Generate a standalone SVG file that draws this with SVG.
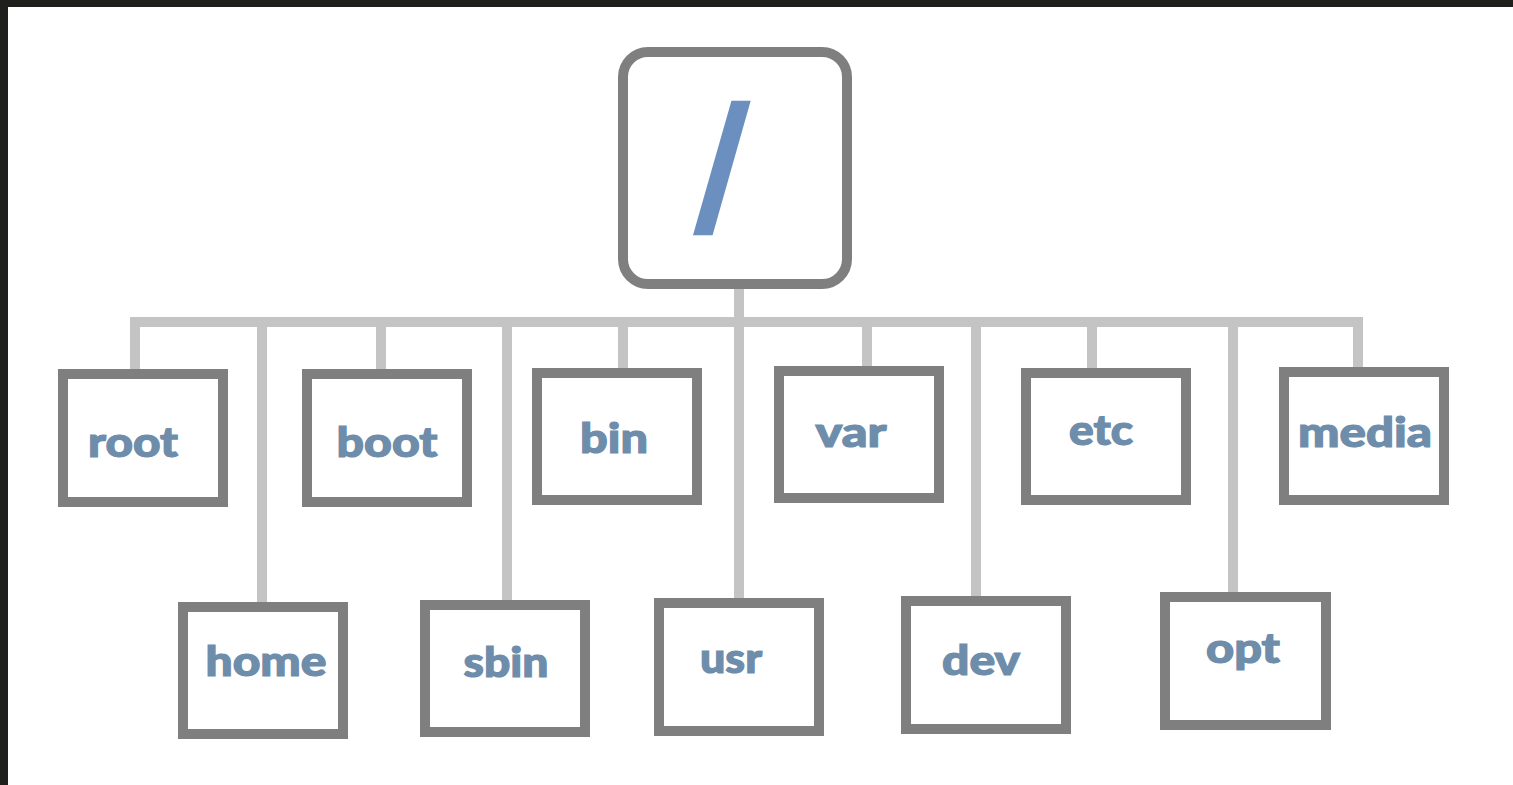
<svg xmlns="http://www.w3.org/2000/svg" width="1513" height="785" viewBox="0 0 1513 785">
<style>
.box{fill:#ffffff;stroke:#7f7f7f;stroke-width:10}
.con{fill:none;stroke:#c4c4c4;stroke-width:10;stroke-linejoin:miter;stroke-linecap:butt}
.lbl{font-family:Lato,"Open Sans",sans-serif;font-weight:900;font-size:42px;fill:#6e8dab;stroke:#6e8dab;stroke-width:1.2;text-anchor:middle}
</style>
<rect x="0" y="0" width="1513" height="785" fill="#1f1f1e"/>
<rect x="8" y="7" width="1505" height="778" fill="#ffffff"/>
<g id="connectors">
<path class="con" d="M135,369 V322 H1358 V367"/>
<path class="con" d="M739,289 V598"/>
<path class="con" d="M262,322 V602"/>
<path class="con" d="M381,322 V369"/>
<path class="con" d="M507,322 V600"/>
<path class="con" d="M623,322 V368"/>
<path class="con" d="M867,322 V366"/>
<path class="con" d="M976,322 V596"/>
<path class="con" d="M1092,322 V368"/>
<path class="con" d="M1233,322 V592"/>
</g>
<g id="node-slash">
<rect class="box" x="623" y="52" width="224" height="232" rx="25"/>
<text x="0" y="0" font-family="Liberation Sans,Arial,sans-serif" font-weight="700" font-size="176" fill="#6b8fbf" stroke="#6b8fbf" stroke-width="3.5" transform="translate(694,230) skewX(-7.6) scale(0.8,1)">/</text>
</g>
<g id="node-root"><rect class="box" x="63" y="374" width="160" height="128"/><text class="lbl" x="133" y="457" textLength="90" lengthAdjust="spacingAndGlyphs">root</text></g>
<g id="node-boot"><rect class="box" x="307" y="374" width="160" height="128"/><text class="lbl" x="387" y="457" textLength="101" lengthAdjust="spacingAndGlyphs">boot</text></g>
<g id="node-bin"><rect class="box" x="537" y="373" width="160" height="127"/><text class="lbl" x="614" y="453" textLength="68" lengthAdjust="spacingAndGlyphs">bin</text></g>
<g id="node-var"><rect class="box" x="779" y="371" width="160" height="127"/><text class="lbl" x="851" y="447" textLength="71" lengthAdjust="spacingAndGlyphs">var</text></g>
<g id="node-etc"><rect class="box" x="1026" y="373" width="160" height="127"/><text class="lbl" x="1101" y="445" textLength="64" lengthAdjust="spacingAndGlyphs">etc</text></g>
<g id="node-media"><rect class="box" x="1284" y="372" width="160" height="128"/><text class="lbl" x="1365" y="447" textLength="134" lengthAdjust="spacingAndGlyphs">media</text></g>
<g id="node-home"><rect class="box" x="183" y="607" width="160" height="127"/><text class="lbl" x="266" y="676" textLength="121" lengthAdjust="spacingAndGlyphs">home</text></g>
<g id="node-sbin"><rect class="box" x="425" y="605" width="160" height="127"/><text class="lbl" x="506" y="677" textLength="85" lengthAdjust="spacingAndGlyphs">sbin</text></g>
<g id="node-usr"><rect class="box" x="659" y="603" width="160" height="128"/><text class="lbl" x="731" y="673" textLength="62" lengthAdjust="spacingAndGlyphs">usr</text></g>
<g id="node-dev"><rect class="box" x="906" y="601" width="160" height="128"/><text class="lbl" x="981" y="675" textLength="78" lengthAdjust="spacingAndGlyphs">dev</text></g>
<g id="node-opt"><rect class="box" x="1165" y="597" width="161" height="128"/><text class="lbl" x="1243" y="663" textLength="74" lengthAdjust="spacingAndGlyphs">opt</text></g>
</svg>
